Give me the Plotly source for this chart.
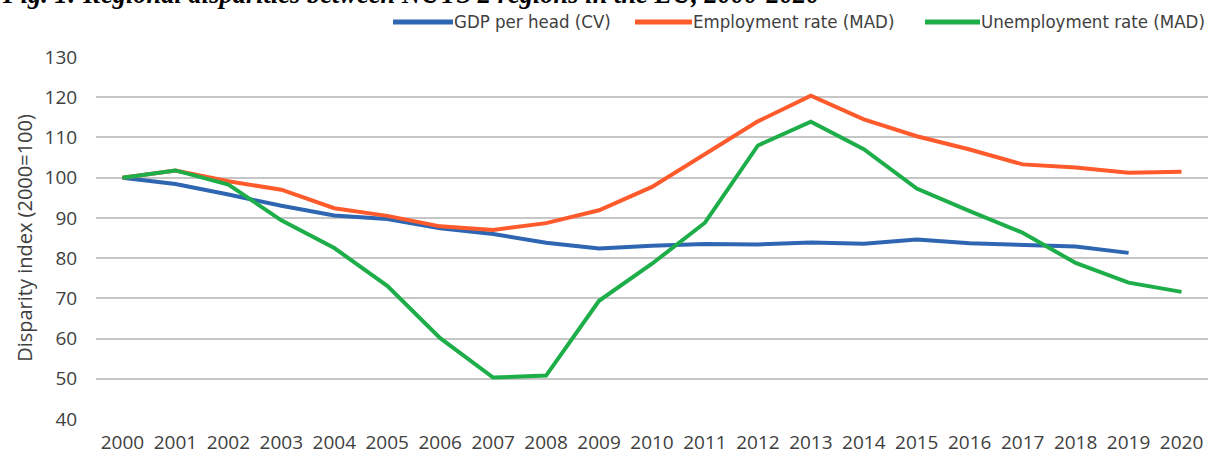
import plotly.graph_objects as go

years = [str(y) for y in range(2000, 2021)]
gdp = [100, 98.4, 95.8, 93.0, 90.6, 89.7, 87.4, 86.0, 83.8, 82.4, 83.1,
       83.5, 83.4, 83.9, 83.6, 84.6, 83.7, 83.3, 82.9, 81.3, None]
emp = [100, 101.8, 99.1, 97.0, 92.4, 90.5, 87.9, 87.0, 88.7, 91.9, 97.7,
       105.8, 114.0, 120.4, 114.5, 110.3, 107.0, 103.3, 102.5, 101.2, 101.5]
unemp = [100, 101.8, 98.3, 89.4, 82.5, 73.1, 60.1, 50.3, 50.8, 69.4, 78.6,
         88.8, 108.0, 113.9, 107.1, 97.3, 91.7, 86.3, 78.8, 73.9, 71.6]

names = ["GDP per head (CV)", "Employment rate (MAD)", "Unemployment rate (MAD)"]
colors = ["#2F66B2", "#FF5A2B", "#1DAE4A"]
title_text = "Fig. 1: Regional disparities between NUTS 2 regions in the EU, 2000-2020"
ytitle = "Disparity index (2000=100)"

W, H = 1215, 457
L, R, T, B = 96, 7, 57, 38
pw, ph = W - L - R, H - T - B


def px_x(p):
    return (p - L) / pw


def px_y(p):
    return 1 - (p - T) / ph


fig = go.Figure()
for name, vals, col in zip(names, [gdp, emp, unemp], colors):
    fig.add_trace(go.Scatter(x=years, y=vals, name=name, mode="lines",
                             line=dict(color=col, width=4), showlegend=False))

# custom legend (longer line samples as in the reference)
leg_lines = [(393, 453), (635, 692), (925, 980)]
shapes, annots = [], []
ly = px_y(22)
for (x0, x1), name, col in zip(leg_lines, names, colors):
    shapes.append(dict(type="line", xref="paper", yref="paper",
                       x0=px_x(x0), x1=px_x(x1), y0=ly, y1=ly,
                       line=dict(color=col, width=5)))
    annots.append(dict(text=name, xref="paper", yref="paper", x=px_x(x1 - 1),
                       xanchor="left", y=ly, yanchor="middle", showarrow=False,
                       font=dict(family="DejaVu Sans Condensed", size=18.5, color="#404040")))

annots.append(dict(text="<b><i>" + title_text + "</i></b>",
                   xref="paper", yref="paper", x=px_x(0), xanchor="left",
                   y=px_y(11), yanchor="bottom", showarrow=False,
                   font=dict(family="Liberation Serif", size=26.5, color="black")))

tickfont = dict(family="Open Sans", size=19, color="#404040")
fig.update_layout(
    width=W, height=H,
    margin=dict(l=L, r=R, t=T, b=B, autoexpand=False),
    plot_bgcolor="white", paper_bgcolor="white",
    showlegend=False,
    xaxis=dict(type="category", range=[-0.5, 20.5], tickfont=tickfont,
               showgrid=False, showline=False, automargin=False,
               ticks="outside", ticklen=6, tickcolor="rgba(0,0,0,0)"),
    yaxis=dict(range=[40, 130], tickvals=list(range(40, 131, 10)), tickfont=tickfont,
               showgrid=True, gridcolor="#C6C6C6", gridwidth=2, zeroline=False,
               showline=False, ticks="outside", ticklen=14, tickcolor="rgba(0,0,0,0)",
               automargin=False,
               title=dict(text=ytitle,
                          font=dict(family="Open Sans", size=20, color="#404040"),
                          standoff=6)),
    shapes=shapes,
    annotations=annots,
)
fig.write_html("out.html")
